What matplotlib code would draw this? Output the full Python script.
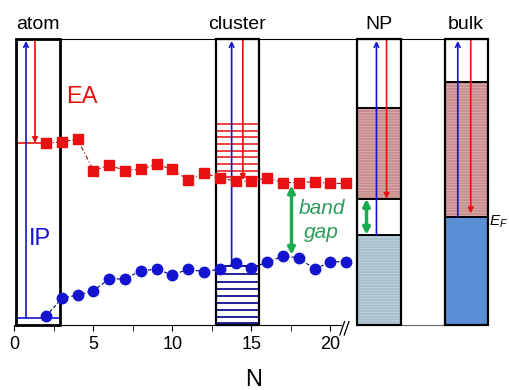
import matplotlib.pyplot as plt
from matplotlib.patches import Rectangle

# cluster size and measured energies (arbitrary energy units, 0-10)
n_atoms = list(range(2, 22))
ea_vals = [6.35, 6.41, 6.49, 5.40, 5.59, 5.40, 5.45, 5.62, 5.44, 5.07,
           5.31, 5.15, 5.03, 5.03, 5.14, 4.98, 4.98, 5.01, 4.95, 4.95]
ip_vals = [0.31, 0.93, 1.05, 1.20, 1.61, 1.61, 1.90, 1.95, 1.75, 1.95,
           1.86, 1.95, 2.16, 2.00, 2.19, 2.41, 2.35, 1.95, 2.21, 2.21]

# discrete levels in the cluster box
cluster_unocc = [7.03, 6.80, 6.57, 6.33, 6.10, 5.87, 5.63, 5.40, 5.17]
cluster_occ = [2.06, 1.78, 1.50, 1.26, 1.01, 0.77, 0.52, 0.28, 0.07]

# band edges: (top of occupied band, bottom / top of unoccupied band)
np_occ_top, np_unocc_bot, np_unocc_top = 3.15, 4.41, 7.58
bulk_fermi, bulk_unocc_top = 3.79, 8.51

xticks = [0, 5, 10, 15, 20]

RED = "#e81010"
BLUE = "#1414d0"
GREEN = "#1aaa50"

plt.rcParams["font.family"] = ["Liberation Sans", "DejaVu Sans"]
plt.rcParams["mathtext.fontset"] = "custom"
plt.rcParams["mathtext.rm"] = "Liberation Sans"
plt.rcParams["mathtext.it"] = "Liberation Sans:italic"
plt.rcParams["hatch.linewidth"] = 0.6


def arrow(ax, x, y_from, y_to, color, lw=1.2, style="-|>", scale=8):
    ax.annotate("", xy=(x, y_to), xytext=(x, y_from),
                arrowprops=dict(arrowstyle=style, color=color, lw=lw,
                                mutation_scale=scale, shrinkA=0, shrinkB=0),
                annotation_clip=False)


def box(ax, x0, x1, lw=1.6):
    ax.add_patch(Rectangle((x0, 0), x1 - x0, 10, fill=False, ec="black",
                           lw=lw, clip_on=False, zorder=5))


def main():
    fig = plt.figure(figsize=(5.1, 3.9), dpi=100)
    ax = fig.add_axes([0.0284, 0.1667, 0.929, 0.7333])
    ax.set_xlim(0, 30)
    ax.set_ylim(0, 10)

    # spines and ticks
    ax.spines["left"].set_visible(False)
    ax.spines["right"].set_visible(False)
    ax.spines["top"].set_bounds(0.1, 29.97)
    ax.spines["bottom"].set_bounds(0, 20.68)
    ax.set_yticks([])
    ax.set_xticks(xticks)
    ax.set_xticks([2.5, 7.5, 12.5, 17.5], minor=True)
    ax.tick_params(axis="x", which="both", direction="out", length=4,
                   labelsize=13, pad=4)
    ax.text(0.505, -0.192, "N", fontsize=17, ha="center", va="center",
            transform=ax.transAxes)

    # axis break marks and gap segment
    for dx in (0.0, 0.28):
        ax.plot([20.6 + dx, 20.9 + dx], [-0.35, 0.12], color="black", lw=0.9,
                clip_on=False)
    ax.plot([24.46, 27.25], [0, 0], color="#666666", lw=0.8, clip_on=False)

    # ---- atom ----
    box(ax, 0.1, 2.9, lw=2.0)
    ax.plot([0.1, 2.9], [0.245, 0.245], color=BLUE, lw=1.2)
    ax.plot([0.1, 1.93], [6.36, 6.36], color=RED, lw=1.2)
    arrow(ax, 0.73, 0.245, 9.93, BLUE, style="->")
    arrow(ax, 1.30, 10, 6.36, RED)
    ax.text(3.3, 7.97, "EA", color=RED, fontsize=17, va="center")
    ax.text(0.9, 3.0, "IP", color=BLUE, fontsize=17, va="center")

    # ---- cluster ----
    for lev in cluster_unocc:
        ax.plot([12.73, 15.49], [lev, lev], color=RED, lw=1.1)
    for lev in cluster_occ:
        ax.plot([12.73, 15.49], [lev, lev], color="#101090", lw=1.3)
    arrow(ax, 13.75, 2.17, 9.93, BLUE, style="->")
    arrow(ax, 14.46, 10, 5.07, RED)
    box(ax, 12.73, 15.49)

    # ---- NP ----
    ax.add_patch(Rectangle((21.68, np_unocc_bot), 2.78,
                           np_unocc_top - np_unocc_bot, fc="#c98c8e",
                           ec="#dcb0b0", hatch="------", lw=0, clip_on=False))
    ax.add_patch(Rectangle((21.68, 0), 2.78, np_occ_top, fc="#a7c0cd",
                           ec="#c2d5de", hatch="------", lw=0, clip_on=False))
    ax.plot([21.68, 24.46], [np_unocc_top] * 2, color="black", lw=1.4)
    ax.plot([21.68, 24.46], [np_unocc_bot] * 2, color="black", lw=1.4)
    ax.plot([21.68, 24.46], [np_occ_top] * 2, color="black", lw=1.4)
    arrow(ax, 22.92, np_occ_top, 9.93, BLUE, style="->")
    arrow(ax, 23.56, 10, np_unocc_bot, RED)
    arrow(ax, 22.29, np_occ_top, np_unocc_bot, GREEN, lw=2.5,
          style="<|-|>", scale=10)
    box(ax, 21.68, 24.46)

    # ---- bulk ----
    ax.add_patch(Rectangle((27.25, bulk_fermi), 2.72,
                           bulk_unocc_top - bulk_fermi, fc="#c98c8e",
                           ec="#dcb0b0", hatch="------", lw=0, clip_on=False))
    ax.add_patch(Rectangle((27.25, 0), 2.72, bulk_fermi, fc="#5a8fd5", lw=0,
                           clip_on=False))
    ax.plot([27.25, 29.97], [bulk_unocc_top] * 2, color="black", lw=1.4)
    ax.plot([27.25, 29.97], [bulk_fermi] * 2, color="black", lw=1.4)
    arrow(ax, 28.07, bulk_fermi, 9.93, BLUE, style="->")
    arrow(ax, 28.89, 10, 3.9, RED)
    box(ax, 27.25, 29.97)
    ax.text(30.06, 3.6, r"$E_F$", fontsize=11, va="center")

    # ---- data ----
    ax.plot(n_atoms, ea_vals, color="#a01818", lw=0.8,
            linestyle=(0, (4, 2, 1, 2)), marker="s", markersize=6.5,
            markerfacecolor=RED, markeredgecolor=RED, zorder=6)
    ax.plot(n_atoms, ip_vals, color="#000070", lw=0.8,
            linestyle=(0, (3, 2)), marker="o", markersize=7.5,
            markerfacecolor=BLUE, markeredgecolor=BLUE, zorder=6)

    # band gap arrow
    arrow(ax, 17.54, 2.45, 4.88, GREEN, lw=2.5, style="<|-|>", scale=10)
    ax.text(19.45, 4.09, "band", color="#2a9d5c", fontsize=15,
            style="italic", ha="center", va="center")
    ax.text(19.45, 3.22, "gap", color="#2a9d5c", fontsize=15,
            style="italic", ha="center", va="center")

    # panel labels
    for x, label in [(1.5, "atom"), (14.1, "cluster"), (23.07, "NP"),
                     (28.6, "bulk")]:
        ax.text(x, 10.5, label, fontsize=14, ha="center", va="center")

    fig.savefig("out.png", dpi=100)


if __name__ == "__main__":
    main()
